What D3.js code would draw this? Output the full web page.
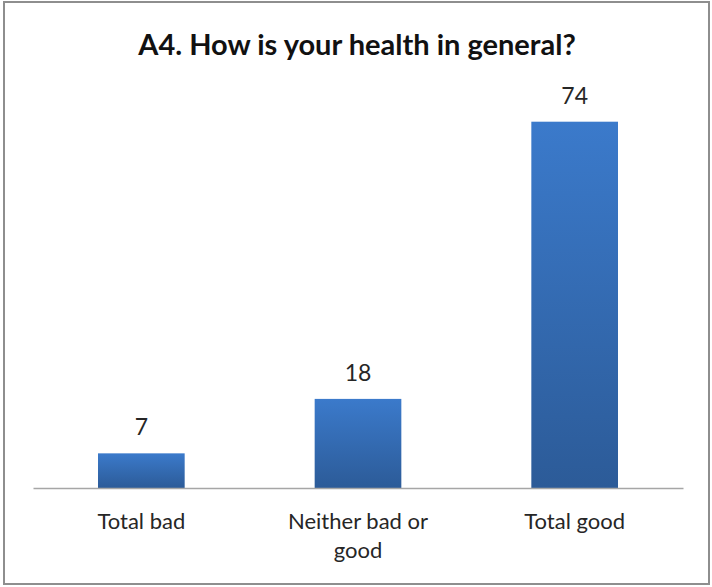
<!DOCTYPE html>
<html>
<head>
<meta charset="utf-8">
<script src="https://cdn.jsdelivr.net/npm/d3@7"></script>
<style>
body{margin:0;background:#fff;}
text{font-family:Lato,"Open Sans",sans-serif;fill:#262626;}
.title{font-weight:bold;fill:#111;}
</style>
</head>
<body>
<svg></svg>
<script>
//data
var categories = ["Total bad","Neither bad or good","Total good"]
var values = [7,18,74]
var titleText = "A4. How is your health in general?"

var makeTranslateString = function(x,y)
{
    return "translate("+x+","+y+")";
}

var initGraph = function()
{
    var screen = {width:712,height:587}
    var margins = {left:33,right:29,top:92,bottom:99}
    var graph = {
        width:screen.width-margins.left-margins.right,
        height:screen.height-margins.top-margins.bottom
    }

    var svg = d3.select("svg")
        .attr("width",screen.width)
        .attr("height",screen.height)

    //frame
    svg.append("rect")
        .attr("x",4).attr("y",2)
        .attr("width",705).attr("height",582)
        .attr("fill","#fff")
        .attr("stroke","#8e8e8e")
        .attr("stroke-width",2)

    var defs = svg.append("defs")
    var grad = defs.append("linearGradient")
        .attr("id","barGrad")
        .attr("x1",0).attr("y1",0).attr("x2",0).attr("y2",1)
    grad.append("stop").attr("offset","0%").attr("stop-color","#3b7acb")
    grad.append("stop").attr("offset","100%").attr("stop-color","#2c5b98")

    var xScale = d3.scaleBand()
        .domain(categories)
        .range([0,graph.width])
        .paddingInner(0.6)
        .paddingOuter(0.3)
    var yScale = d3.scaleLinear()
        .domain([0,80])
        .range([graph.height,0])

    var target = svg.append("g")
        .attr("transform",makeTranslateString(margins.left,margins.top))

    var data = categories.map(function(c,i){return {cat:c,val:values[i]}})

    target.selectAll("rect.bar")
        .data(data)
        .enter()
        .append("rect")
        .classed("bar",true)
        .attr("x",function(d){return xScale(d.cat)})
        .attr("y",function(d){return yScale(d.val)})
        .attr("width",xScale.bandwidth())
        .attr("height",function(d){return graph.height-yScale(d.val)})
        .attr("fill","url(#barGrad)")

    target.selectAll("text.val")
        .data(data)
        .enter()
        .append("text")
        .classed("val",true)
        .text(function(d){return d.val})
        .attr("text-anchor","middle")
        .attr("font-size",23)
        .attr("x",function(d){return xScale(d.cat)+xScale.bandwidth()/2})
        .attr("y",function(d){return yScale(d.val)-18})

    //axis
    var xAxis = d3.axisBottom(xScale).tickSize(0).tickFormat("")
    var ax = target.append("g")
        .attr("transform",makeTranslateString(0,graph.height))
        .call(xAxis)
    ax.select(".domain").attr("stroke","#a6a6a6").attr("stroke-width",1.5)

    //category labels, wrapped
    var wrap = {"Neither bad or good":["Neither bad or","good"]}
    var labs = target.selectAll("text.cat")
        .data(categories)
        .enter()
        .append("text")
        .classed("cat",true)
        .attr("text-anchor","middle")
        .attr("font-size",22)
        .attr("x",function(c){return xScale(c)+xScale.bandwidth()/2})
        .attr("y",graph.height+41)
    labs.each(function(c){
        var lines = wrap[c] || [c]
        var t = d3.select(this)
        lines.forEach(function(l,i){
            t.append("tspan")
                .attr("x",xScale(c)+xScale.bandwidth()/2)
                .attr("dy",i==0?0:29)
                .text(l)
        })
    })

    svg.append("text")
        .classed("title",true)
        .text(titleText)
        .attr("text-anchor","middle")
        .attr("font-size",29)
        .attr("x",357)
        .attr("y",55)
}
initGraph()
</script>
</body>
</html>
